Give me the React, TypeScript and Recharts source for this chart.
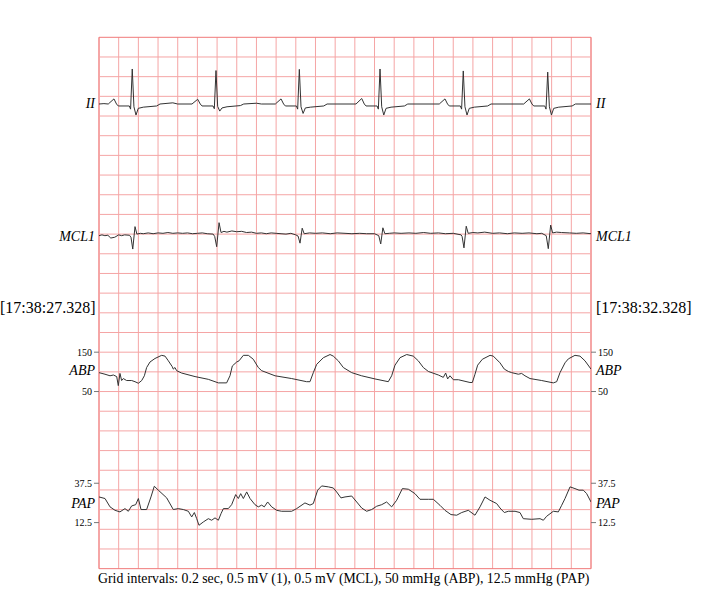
import React from 'react';
import { ComposedChart, Line, XAxis, YAxis, CartesianGrid, ReferenceArea, ReferenceLine } from 'recharts';

// time (s), value
const leadII: [number, number][] = [
  [0, 0], [0.05, 0.01], [0.094, 0], [0.152, 0.13], [0.178, 0], [0.196, -0.05], [0.308, -0.05],
  [0.321, -0.13], [0.338, 0.89], [0.355, -0.07], [0.376, -0.28], [0.399, -0.11], [0.45, -0.08],
  [0.586, -0.05], [0.62, 0], [0.75, 0.03], [0.8, 0],
  [0.945, 0], [1.003, 0.12], [1.029, 0], [1.047, -0.05], [1.159, -0.05], [1.172, -0.12],
  [1.189, 0.85], [1.206, -0.06], [1.227, -0.18], [1.25, -0.1], [1.301, -0.07], [1.437, -0.04],
  [1.471, 0], [1.6, 0.02], [1.65, 0],
  [1.792, 0], [1.85, 0.13], [1.876, 0], [1.894, -0.05], [2.006, -0.05], [2.019, -0.13],
  [2.036, 0.88], [2.053, -0.07], [2.074, -0.24], [2.097, -0.1], [2.148, -0.08], [2.284, -0.05],
  [2.318, 0],
  [2.612, 0], [2.67, 0.14], [2.696, 0], [2.714, -0.05], [2.826, -0.05], [2.839, -0.13],
  [2.856, 0.89], [2.873, -0.07], [2.894, -0.28], [2.917, -0.11], [2.968, -0.08], [3.104, -0.05],
  [3.138, 0],
  [3.458, 0], [3.516, 0.13], [3.542, 0], [3.56, -0.05], [3.672, -0.05], [3.685, -0.13],
  [3.702, 0.84], [3.719, -0.07], [3.74, -0.28], [3.763, -0.11], [3.814, -0.08], [3.95, -0.05],
  [3.984, 0],
  [4.316, 0], [4.374, 0.13], [4.4, 0], [4.418, -0.05], [4.53, -0.05], [4.543, -0.13],
  [4.56, 0.81], [4.577, -0.07], [4.598, -0.28], [4.621, -0.11], [4.672, -0.08], [4.808, -0.05],
  [4.842, 0], [5, 0],
];

const leadMCL1: [number, number][] = [
  [0, -0.04], [0.03, -0.02], [0.06, -0.04], [0.09, -0.03], [0.12, -0.1], [0.16, -0.08],
  [0.2, -0.02], [0.23, -0.04], [0.26, -0.02], [0.31, -0.03], [0.325, -0.08], [0.343, -0.38],
  [0.366, 0.19], [0.385, 0], [0.42, 0.02], [0.45, 0.01], [0.5, 0.03], [0.55, 0.01],
  [0.6, 0.03], [0.65, 0.02], [0.7, 0.04], [0.75, 0.02], [0.8, 0.03], [0.85, 0.02],
  [0.9, 0.03], [0.95, 0.01], [1.0, 0.02], [1.05, 0.03], [1.1, 0.01], [1.16, 0],
  [1.176, -0.06], [1.196, -0.32], [1.22, 0.29], [1.24, 0.04], [1.27, 0.07], [1.3, 0.05],
  [1.35, 0.08], [1.4, 0.06], [1.45, 0.07], [1.5, 0.04], [1.55, 0.05], [1.6, 0.02],
  [1.65, 0.03], [1.7, 0.01], [1.75, 0.03], [1.8, 0.02], [1.85, 0.01], [1.9, 0],
  [1.95, 0.02], [2.0, -0.02], [2.023, -0.05], [2.043, -0.23], [2.065, 0.15], [2.085, 0.01],
  [2.14, 0.03], [2.2, 0.02], [2.27, 0.03], [2.35, 0.01], [2.42, 0.03], [2.5, 0.02],
  [2.57, 0.01], [2.65, 0.02], [2.72, 0.01], [2.8, 0.01], [2.843, -0.04], [2.863, -0.25],
  [2.885, 0.16], [2.905, 0.01], [2.95, 0.02], [3.0, 0.03], [3.07, 0.02], [3.15, 0.03],
  [3.22, 0.02], [3.3, 0.04], [3.37, 0.02], [3.45, 0.03], [3.52, 0.01], [3.6, 0.02],
  [3.68, -0.02], [3.69, -0.06], [3.709, -0.35], [3.732, 0.2], [3.752, 0.02], [3.8, 0.04],
  [3.85, 0.03], [3.92, 0.05], [4.0, 0.02], [4.07, 0.03], [4.15, 0.01], [4.22, 0.03],
  [4.3, 0.02], [4.37, 0.03], [4.45, 0.01], [4.5, 0.02], [4.545, -0.04], [4.566, -0.37],
  [4.59, 0.23], [4.61, 0.03], [4.65, 0.05], [4.7, 0.04], [4.78, 0.03], [4.85, 0.02],
  [4.92, 0.03], [5, 0.01],
];

const abp: [number, number][] = [
  [0, 98], [0.061, 94], [0.112, 90], [0.146, 92], [0.18, 88], [0.196, 65], [0.213, 96],
  [0.23, 78], [0.247, 83], [0.281, 78], [0.332, 78], [0.366, 75], [0.4, 71], [0.434, 78],
  [0.461, 90], [0.484, 111], [0.518, 125], [0.569, 134], [0.637, 142], [0.671, 140],
  [0.705, 128], [0.745, 113], [0.755, 107], [0.772, 111], [0.789, 103], [0.84, 97],
  [0.976, 88], [1.111, 81], [1.213, 72], [1.297, 72], [1.331, 90], [1.355, 115], [1.399, 125],
  [1.423, 128], [1.467, 142], [1.518, 142], [1.568, 132], [1.619, 111], [1.653, 103],
  [1.789, 90], [1.958, 83], [2.11, 75], [2.144, 75], [2.178, 98], [2.212, 119], [2.28, 136],
  [2.348, 144], [2.381, 140], [2.432, 128], [2.483, 111], [2.568, 98], [2.669, 90],
  [2.805, 82], [2.94, 75], [2.974, 90], [3.008, 117], [3.059, 136], [3.127, 144],
  [3.194, 140], [3.245, 128], [3.296, 111], [3.347, 101], [3.449, 92], [3.499, 86],
  [3.523, 97], [3.543, 82], [3.567, 90], [3.601, 80], [3.652, 80], [3.77, 73], [3.794, 73],
  [3.821, 94], [3.848, 117], [3.896, 132], [3.974, 142], [4.007, 140], [4.075, 123],
  [4.119, 107], [4.16, 101], [4.194, 98], [4.262, 94], [4.295, 96], [4.329, 90], [4.38, 83],
  [4.499, 78], [4.617, 72], [4.651, 75], [4.685, 98], [4.736, 123], [4.77, 133],
  [4.837, 142], [4.888, 140], [4.939, 128], [5, 107],
];

const pap: [number, number][] = [
  [0, 28.8], [0.061, 27.8], [0.112, 22.5], [0.163, 20.3], [0.213, 19.3], [0.264, 21.4],
  [0.298, 19.7], [0.332, 23.1], [0.373, 23.9], [0.4, 27.8], [0.427, 20.8], [0.484, 20.8],
  [0.528, 28.8], [0.562, 35.6], [0.603, 33.1], [0.688, 28.2], [0.755, 20.8], [0.806, 21.4],
  [0.857, 20.8], [0.908, 19.7], [0.942, 16.1], [0.969, 18.9], [0.993, 15.0], [1.016, 10.8],
  [1.06, 12.9], [1.111, 15.0], [1.145, 14.0], [1.179, 15.5], [1.213, 14.0], [1.24, 18.2],
  [1.264, 21.4], [1.314, 21.4], [1.348, 23.9], [1.389, 30.3], [1.416, 27.8], [1.44, 30.9],
  [1.467, 27.8], [1.501, 32.0], [1.535, 27.8], [1.585, 23.9], [1.619, 22.5], [1.653, 23.6],
  [1.68, 22.5], [1.714, 25.6], [1.755, 22.5], [1.806, 20.3], [1.856, 19.7], [1.958, 19.7],
  [2.009, 21.4], [2.093, 25.0], [2.144, 23.6], [2.178, 24.6], [2.222, 33.1], [2.263, 35.8],
  [2.331, 35.2], [2.381, 34.5], [2.415, 32.0], [2.459, 28.2], [2.5, 28.8], [2.568, 29.4],
  [2.619, 25.6], [2.669, 21.8], [2.72, 19.7], [2.771, 20.8], [2.822, 22.9], [2.873, 23.9],
  [2.923, 25.6], [2.974, 22.5], [3.025, 26.7], [3.083, 34.1], [3.144, 33.7], [3.211, 30.9],
  [3.262, 27.3], [3.347, 27.3], [3.398, 27.3], [3.465, 23.5], [3.516, 20.3], [3.577, 17.6],
  [3.635, 17.2], [3.686, 18.9], [3.753, 20.3], [3.821, 17.2], [3.872, 22.5], [3.923, 28.8],
  [3.974, 26.7], [4.041, 24.6], [4.075, 21.8], [4.119, 18.9], [4.16, 19.7], [4.228, 19.7],
  [4.278, 18.9], [4.312, 15.0], [4.397, 14.6], [4.482, 15.0], [4.516, 14.0], [4.549, 16.5],
  [4.617, 19.7], [4.668, 19.3], [4.702, 23.5], [4.736, 27.8], [4.787, 35.2], [4.837, 34.1],
  [4.878, 33.1], [4.922, 33.1], [4.956, 30.9], [5, 25.6],
];

const abpTicks = [50, 150];
const papTicks = [12.5, 37.5];
const startTime = '[17:38:27.328]';
const endTime = '[17:38:32.328]';
const caption = 'Grid intervals: 0.2 sec, 0.5 mV (1), 0.5 mV (MCL), 50 mmHg (ABP), 12.5 mmHg (PAP)';

// layout
const W = 711;
const H = 589;
const LEFT = 99;
const TOP = 37.3;
const PW = 492;
const COLS = 25;
const ROWS = 27;
const CELL = PW / COLS;
const PH = ROWS * CELL;
const AX = 0.001; // near-zero axis width so tick axes sit on the plot edge

// value at top of the plot, value per grid row
const axisDomain = (topValue: number, perRow: number) => [topValue - ROWS * perRow, topValue];
const iiDomain = axisDomain(3.39 * 0.5, 0.5);
const mclDomain = axisDomain(10 * 0.5, 0.5);
const abpDomain = axisDomain(150 + 16 * 50, 50);
const papDomain = axisDomain(37.5 + 22.66 * 12.5, 12.5);

const timeTicks = Array.from({ length: COLS + 1 }, (_, i) => +(i * 0.2).toFixed(1));
// horizontal grid rows, expressed on the ABP axis (50 mmHg per row)
const gridRows = Array.from({ length: ROWS - 1 }, (_, i) => abpDomain[1] - (i + 1) * 50);

const rows = (pts: [number, number][]) => pts.map(([t, v]) => ({ t, v }));

const serif = '"Liberation Serif", "Times New Roman", serif';
const tickStyle = { fontSize: 10, fill: '#000', fontFamily: serif };
const trace = '#333';
const gridColor = '#f5a5a5';

const rowY = (cell: number) => TOP + cell * CELL;

const Label = ({ text, y, side, italic = true, size = 14 }: any) => (
  <div
    style={{
      position: 'absolute',
      top: y,
      transform: 'translateY(-50%)',
      lineHeight: 1,
      fontFamily: serif,
      fontStyle: italic ? 'italic' : 'normal',
      fontSize: size,
      whiteSpace: 'nowrap',
      ...(side === 'left' ? { right: W - 95 } : { left: 596 }),
    }}
  >
    {text}
  </div>
);

const tickAxis = {
  type: 'number' as const,
  allowDataOverflow: true,
  width: AX,
  interval: 0 as const,
  tickSize: 5,
  tickMargin: 2,
  axisLine: false,
  tickLine: { stroke: '#777' },
  tick: tickStyle,
};

export default function App() {
  return (
    <div style={{ position: 'absolute', left: 0, top: 0, width: W, height: H, background: '#fff' }}>
      <ComposedChart
        width={W}
        height={H}
        margin={{ top: TOP, left: LEFT - 2 * AX, right: W - LEFT - PW - 2 * AX, bottom: H - TOP - PH }}
      >
        <XAxis type="number" dataKey="t" domain={[0, 5]} ticks={timeTicks} interval={0} hide height={0} allowDataOverflow />
        <YAxis yAxisId="abp" domain={abpDomain} ticks={abpTicks} {...tickAxis} />
        <YAxis yAxisId="pap" domain={papDomain} ticks={papTicks} {...tickAxis} />
        <YAxis yAxisId="abpR" orientation="right" domain={abpDomain} ticks={abpTicks} {...tickAxis} />
        <YAxis yAxisId="papR" orientation="right" domain={papDomain} ticks={papTicks} {...tickAxis} />
        <YAxis yAxisId="ii" type="number" domain={iiDomain} hide width={0} allowDataOverflow />
        <YAxis yAxisId="mcl" type="number" domain={mclDomain} hide width={0} allowDataOverflow />
        <CartesianGrid yAxisId="abp" horizontal={false} stroke={gridColor} strokeWidth={1} />
        {gridRows.map((v) => (
          <ReferenceLine key={v} yAxisId="abp" y={v} stroke={gridColor} strokeWidth={1} />
        ))}
        <ReferenceArea yAxisId="abp" x1={0} x2={5} y1={abpDomain[0]} y2={abpDomain[1]} fill="none" stroke="#f07a7a" strokeWidth={1} />
        <Line yAxisId="ii" data={rows(leadII)} dataKey="v" type="linear" stroke={trace} strokeWidth={1} dot={false} isAnimationActive={false} />
        <Line yAxisId="mcl" data={rows(leadMCL1)} dataKey="v" type="linear" stroke={trace} strokeWidth={1} dot={false} isAnimationActive={false} />
        <Line yAxisId="abp" data={rows(abp)} dataKey="v" type="linear" stroke={trace} strokeWidth={1} dot={false} isAnimationActive={false} />
        <Line yAxisId="pap" data={rows(pap)} dataKey="v" type="linear" stroke={trace} strokeWidth={1} dot={false} isAnimationActive={false} />
      </ComposedChart>

      <Label text="II" y={104} side="left" />
      <Label text="II" y={104} side="right" />
      <Label text="MCL1" y={237} side="left" />
      <Label text="MCL1" y={237} side="right" />
      <Label text="ABP" y={rowY(17) - 1} side="left" />
      <Label text="ABP" y={rowY(17) - 1} side="right" />
      <Label text="PAP" y={rowY(23.66) + 1} side="left" />
      <Label text="PAP" y={rowY(23.66) + 1} side="right" />
      <div style={{ position: 'absolute', left: 0, top: 308, transform: 'translateY(-50%)', fontFamily: serif, fontSize: 16, lineHeight: 1 }}>
        {startTime}
      </div>
      <div style={{ position: 'absolute', left: 596, top: 308, transform: 'translateY(-50%)', fontFamily: serif, fontSize: 16, lineHeight: 1 }}>
        {endTime}
      </div>
      <div style={{ position: 'absolute', left: 98, top: 579, transform: 'translateY(-50%)', fontFamily: serif, fontSize: 13.8, lineHeight: 1, whiteSpace: 'nowrap' }}>
        {caption}
      </div>
    </div>
  );
}
